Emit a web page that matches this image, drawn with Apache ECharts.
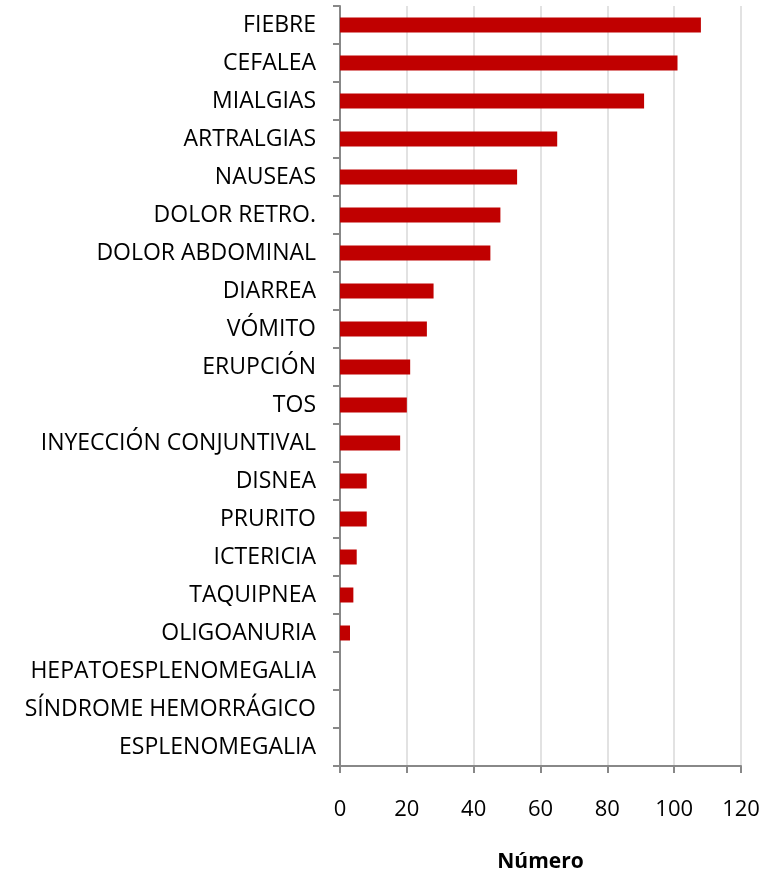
<!DOCTYPE html>
<html>
<head>
<meta charset="utf-8">
<title>Síntomas</title>
<script src="https://cdn.jsdelivr.net/npm/echarts@6/dist/echarts.min.js"></script>
<style>
  html, body { margin: 0; padding: 0; background: #fff; }
  #chart { width: 766px; height: 878px; }
</style>
</head>
<body>
<div id="chart"></div>
<script>
// Symptoms, listed top to bottom
const categories = [
  'FIEBRE', 'CEFALEA', 'MIALGIAS', 'ARTRALGIAS', 'NAUSEAS', 'DOLOR RETRO.',
  'DOLOR ABDOMINAL', 'DIARREA', 'VÓMITO', 'ERUPCIÓN', 'TOS',
  'INYECCIÓN CONJUNTIVAL', 'DISNEA', 'PRURITO', 'ICTERICIA', 'TAQUIPNEA',
  'OLIGOANURIA', 'HEPATOESPLENOMEGALIA', 'SÍNDROME HEMORRÁGICO', 'ESPLENOMEGALIA'
];
// Number of cases per symptom
const counts = [108, 101, 91, 65, 53, 48, 45, 28, 26, 21, 20, 18, 8, 8, 5, 4, 3, 0, 0, 0];
// Value axis ticks
const xTicks = [0, 20, 40, 60, 80, 100, 120];

const fontFamily = '"Open Sans", "Noto Sans", sans-serif';
const chart = echarts.init(document.getElementById('chart'), null, { renderer: 'canvas' });

chart.setOption({
  animation: false,
  backgroundColor: '#ffffff',
  grid: { left: 340, right: 25, top: 6, bottom: 107, containLabel: false },
  xAxis: {
    type: 'value',
    min: xTicks[0],
    max: xTicks[xTicks.length - 1],
    interval: xTicks[1] - xTicks[0],
    name: 'Número',
    nameLocation: 'middle',
    nameGap: 86,
    nameTextStyle: { fontFamily, fontSize: 21, fontWeight: 'bold', color: '#000' },
    axisLine: { show: true, lineStyle: { color: '#888888', width: 2 } },
    axisTick: { show: true, length: 7, lineStyle: { color: '#888888', width: 2 } },
    axisLabel: { fontFamily, fontSize: 22, color: '#000', margin: 33 },
    splitLine: { show: true, lineStyle: { color: '#d9d9d9', width: 1.5 } }
  },
  yAxis: {
    type: 'category',
    data: categories,
    inverse: true,
    axisLine: { show: true, lineStyle: { color: '#888888', width: 2 } },
    axisTick: { show: true, length: 7, lineStyle: { color: '#888888', width: 2 } },
    axisLabel: { fontFamily, fontSize: 23, color: '#000', margin: 24 },
    splitLine: { show: false }
  },
  series: [{
    type: 'bar',
    data: counts,
    barWidth: 15,
    itemStyle: { color: '#C00000' }
  }]
});
</script>
</body>
</html>
